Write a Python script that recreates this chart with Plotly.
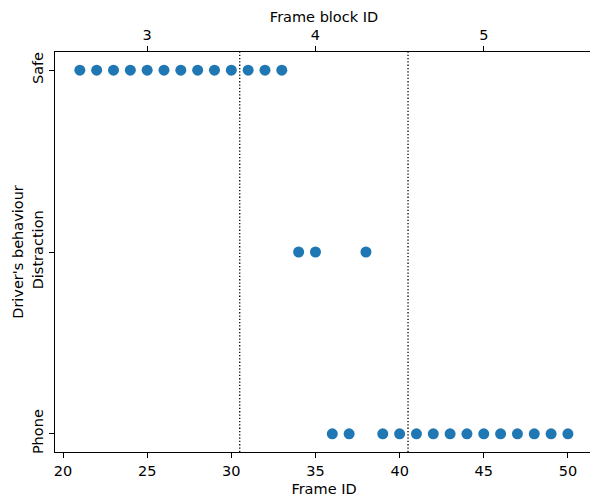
import plotly.graph_objects as go

# Data
categories = ["Phone", "Distraction", "Safe"]
frame_ids = list(range(21, 51))
behaviour = (["Safe"] * 13 + ["Distraction", "Distraction", "Phone", "Phone", "Distraction"]
             + ["Phone"] * 12)
block_ids = ["3", "4", "5"]
block_centers = [25, 35, 45]
block_boundaries = [30.5, 40.5]

cat_index = {c: i for i, c in enumerate(categories)}
yvals = [cat_index[b] for b in behaviour]

xr = [19.524, 51.49]
font = dict(family="DejaVu Sans", size=14.5, color="black")

fig = go.Figure()
fig.add_trace(go.Scatter(x=frame_ids, y=yvals, mode="markers",
                         marker=dict(color="#1f77b4", size=11), showlegend=False))
# invisible trace for top axis
fig.add_trace(go.Scatter(x=block_centers, y=[None]*3, xaxis="x2", mode="markers",
                         showlegend=False, hoverinfo="skip"))

for b in block_boundaries:
    fig.add_shape(type="line", x0=b, x1=b, y0=0, y1=1, xref="x", yref="paper",
                  line=dict(color="black", width=1.3, dash="1.3px,2px"))

common = dict(ticks="outside", ticklen=5, tickcolor="black", tickwidth=1.2,
              showline=True, linecolor="black", linewidth=1.2, showgrid=False,
              zeroline=False, tickfont=font, automargin=False)

fig.update_layout(
    width=593, height=497,
    margin=dict(l=55, r=0, t=52, b=45),
    plot_bgcolor="white", paper_bgcolor="white",
    font=font,
    xaxis=dict(range=xr, tickvals=[20, 25, 30, 35, 40, 45, 50],
               title=dict(text="Frame ID", standoff=6, font=font), **common),
    xaxis2=dict(range=xr, overlaying="x", side="top", tickvals=block_centers,
                ticktext=block_ids,
                title=dict(text="Frame block ID", standoff=1, font=font), **common),
    yaxis=dict(range=[-0.1, 2.1], tickvals=[0, 1, 2], ticktext=categories,
               tickangle=-90,
               title=dict(text="Driver's behaviour", standoff=3, font=font), **common),
)

fig.write_html("out.html", config={"displayModeBar": False},
               post_script="document.body.style.margin='0';document.body.style.overflow='hidden';")
